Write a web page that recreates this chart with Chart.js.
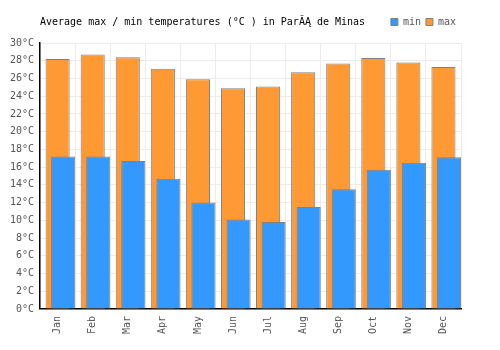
<!DOCTYPE html>
<html><head><meta charset="utf-8">
<script src="https://cdn.jsdelivr.net/npm/chart.js@4"></script>
<style>html,body{margin:0;padding:0;background:#fff}</style>
</head><body>
<canvas id="c" width="500" height="350"></canvas>
<script>
const months = ["Jan","Feb","Mar","Apr","May","Jun","Jul","Aug","Sep","Oct","Nov","Dec"];
const minTemps = [17.2,17.2,16.7,14.7,12.0,10.1,9.8,11.5,13.5,15.7,16.5,17.1];
const maxTemps = [28.2,28.7,28.4,27.1,25.9,24.9,25.1,26.7,27.7,28.3,27.8,27.3];
const titleText = "Average max / min temperatures (°C ) in ParĂĄ de Minas";
const yMin = 0, yMax = 30, yStep = 2;

const FONT = '"DejaVu Sans Mono", "Liberation Mono", monospace';

const titlePlugin = {
  id: 'topTitle',
  afterDraw(chart) {
    const ctx = chart.ctx;
    ctx.save();
    ctx.font = '10px ' + FONT;
    ctx.fillStyle = '#000';
    ctx.textBaseline = 'middle';
    ctx.textAlign = 'left';
    ctx.fillText(titleText, 40, 22.5);
    ctx.restore();
  }
};

const blank = months.map(() => null);

new Chart(document.getElementById('c'), {
  type: 'bar',
  data: {
    labels: months,
    datasets: [
      { label: '_padL', data: blank, stack: 'L' },
      { label: '_padC', data: blank, stack: 'C' },
      { label: 'min', data: minTemps, stack: 'R', backgroundColor: '#3399ff', borderColor: '#808080', borderWidth: 1 },
      { label: 'max', data: maxTemps, stack: 'C', backgroundColor: '#ff9933', borderColor: '#808080', borderWidth: 1 }
    ]
  },
  options: {
    responsive: false,
    devicePixelRatio: 1,
    animation: false,
    categoryPercentage: 0.473,
    barPercentage: 4.36,
    layout: { padding: { left: 4, right: 39, top: 12, bottom: 9 } },
    plugins: {
      tooltip: { enabled: false },
      title: { display: false },
      subtitle: {
        display: true, text: ' ', weight: 500, position: 'top',
        font: { size: 2, lineHeight: 1 }, padding: { top: 2, bottom: 2 }
      },
      legend: {
        position: 'top',
        align: 'end',
        labels: {
          boxWidth: 7,
          boxHeight: 7,
          padding: 5,
          color: '#555',
          font: { family: FONT, size: 10 },
          filter: item => item.text === 'min' || item.text === 'max'
        }
      }
    },
    scales: {
      x: {
        grid: { color: '#ececec', drawTicks: false, offset: true },
        border: { color: '#000', width: 1.5 },
        ticks: { minRotation: 90, maxRotation: 90, padding: 7, color: '#555', font: { family: FONT, size: 10 } }
      },
      y: {
        min: yMin, max: yMax, stacked: false,
        grid: { color: '#ececec', drawTicks: false },
        border: { color: '#000', width: 1.5 },
        ticks: { stepSize: yStep, padding: 6, color: '#555', font: { family: FONT, size: 10 }, callback: v => v + '°C' }
      }
    }
  },
  plugins: [titlePlugin]
});
</script>
</body></html>
